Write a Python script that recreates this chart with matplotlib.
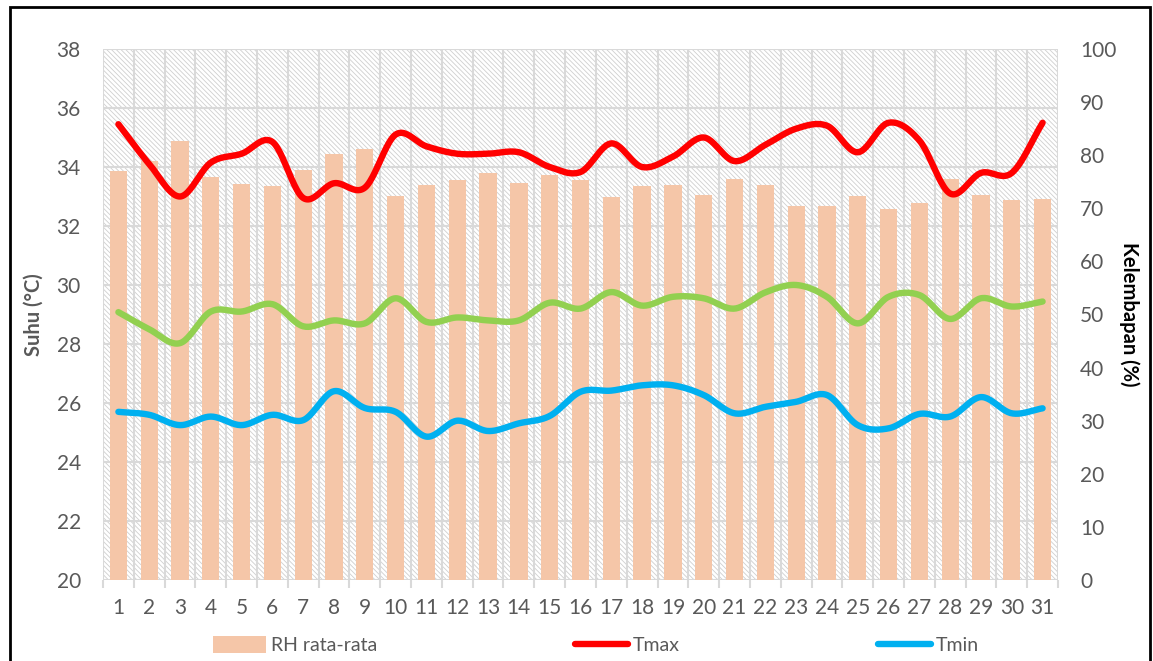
import numpy as np
import matplotlib
matplotlib.use('Agg')
import matplotlib.pyplot as plt
from matplotlib.patches import Rectangle, Patch
from matplotlib.lines import Line2D

# data
days = list(range(1, 32))
rh_mean = [77.0, 78.9, 82.7, 75.9, 74.5, 74.2, 77.2, 80.2, 81.2, 72.3,
           74.4, 75.3, 76.7, 74.7, 76.3, 75.3, 72.1, 74.2, 74.4, 72.5,
           75.5, 74.4, 70.5, 70.4, 72.3, 69.9, 71.0, 75.5, 72.5, 71.6, 71.8]
t_max = [35.45, 34.1, 33.0, 34.15, 34.45, 34.85, 32.95, 33.45, 33.3, 35.1,
         34.7, 34.45, 34.45, 34.5, 34.0, 33.83, 34.8, 34.0, 34.35, 35.0,
         34.2, 34.75, 35.3, 35.4, 34.5, 35.5, 34.9, 33.1, 33.8, 33.8, 35.5]
t_mean = [29.08, 28.5, 28.03, 29.1, 29.1, 29.35, 28.6, 28.8, 28.7, 29.55,
          28.75, 28.9, 28.8, 28.8, 29.4, 29.2, 29.76, 29.3, 29.6, 29.55,
          29.2, 29.75, 30.0, 29.6, 28.7, 29.6, 29.66, 28.85, 29.55, 29.27, 29.44]
t_min = [25.7, 25.6, 25.25, 25.54, 25.25, 25.6, 25.42, 26.4, 25.83, 25.7,
         24.86, 25.4, 25.05, 25.31, 25.56, 26.38, 26.42, 26.6, 26.6, 26.27,
         25.65, 25.87, 26.04, 26.27, 25.25, 25.14, 25.63, 25.54, 26.2, 25.65, 25.82]

GRAY = '#595959'
GRID = '#d9d9d9'


def smooth(x, y, n=24):
    # catmull-rom curve through the points, like excel's smoothed line
    x = np.asarray(x, float)
    y = np.asarray(y, float)
    px = np.concatenate(([2 * x[0] - x[1]], x, [2 * x[-1] - x[-2]]))
    py = np.concatenate(([2 * y[0] - y[1]], y, [2 * y[-1] - y[-2]]))
    t = np.linspace(0, 1, n, endpoint=False)
    xs, ys = [], []
    for i in range(1, len(px) - 2):
        for p, out in ((px, xs), (py, ys)):
            p0, p1, p2, p3 = p[i - 1], p[i], p[i + 1], p[i + 2]
            out.append(0.5 * (2 * p1 + (p2 - p0) * t + (2 * p0 - 5 * p1 + 4 * p2 - p3) * t ** 2
                              + (3 * p1 - p0 - 3 * p2 + p3) * t ** 3))
    xs.append([x[-1]])
    ys.append([y[-1]])
    return np.concatenate(xs), np.concatenate(ys)


plt.rcParams['font.family'] = ['Lato', 'DejaVu Sans']
plt.rcParams['hatch.linewidth'] = 0.6

W, H = 1153, 661
fig = plt.figure(figsize=(W / 100, H / 100), dpi=100)
ax = fig.add_axes([103 / W, (H - 580) / H, 955 / W, 531 / H])
ax2 = ax.twinx()

# hatched background
ax.add_patch(Rectangle((0, 0), 1, 1, transform=ax.transAxes, facecolor='white',
                       edgecolor='#cfcfcf', hatch='\\\\\\\\\\\\\\', linewidth=0, zorder=0))
ax.set_axisbelow(True)

ax.set_xlim(0.5, 31.5)
ax.set_ylim(20, 38)
ax.set_yticks(np.arange(20, 39, 2))
ax.set_xticks(days)
ax.set_xticks(np.arange(0.5, 32, 1), minor=True)
ax.grid(True, axis='y', color=GRID, lw=1.5)
ax.grid(True, axis='x', which='minor', color=GRID, lw=1.5)
ax.tick_params(axis='x', which='major', length=0, pad=13, labelsize=15, labelcolor=GRAY)
ax.tick_params(axis='x', which='minor', length=6, width=1.5, color=GRID)
ax.tick_params(axis='y', length=0, pad=16, labelsize=15, labelcolor=GRAY)

ax2.set_ylim(0, 100)
ax2.set_yticks(np.arange(0, 101, 10))
ax2.tick_params(axis='y', length=0, pad=16, labelsize=15, labelcolor=GRAY)

for a in (ax, ax2):
    for s in a.spines.values():
        s.set_visible(False)

ax2.bar(days, rh_mean, width=0.56, color='#F5C6A8', zorder=2)

for vals, col in ((t_max, '#FF0000'), (t_mean, '#92D050'), (t_min, '#00B0F0')):
    sx, sy = smooth(days, vals)
    ax2.plot(sx, sy, color=col, lw=4.6, solid_capstyle='round', transform=ax.transData, zorder=3)

ax.set_ylabel('Suhu (°C)', fontsize=14.5, fontweight='bold', color=GRAY)
ax.yaxis.set_label_coords(-0.062, 0.5)
ax2.set_ylabel('Kelembapan (%)', fontsize=14.5, fontweight='bold', color='black', rotation=270, va='center')
ax2.yaxis.set_label_coords(1.075, 0.5)

handles = [Patch(facecolor='#F5C6A8', edgecolor='none'),
           Line2D([], [], color='#FF0000', lw=4.6, solid_capstyle='round'),
           Line2D([], [], color='#00B0F0', lw=4.6, solid_capstyle='round')]
fig.legend(handles, ['RH rata-rata', 'Tmax', 'Tmin'], loc='center', ncol=3,
           bbox_to_anchor=(596 / W, (H - 645) / H), frameon=False, fontsize=14,
           labelcolor=GRAY, handlelength=2.7, handleheight=0.95, handletextpad=0.25,
           columnspacing=10.2)

# chart border
fig.add_artist(Rectangle((10 / W, -0.02), 1140 / W, 1.02 - 7 / H, transform=fig.transFigure,
                         fill=False, edgecolor='black', lw=2))

fig.savefig('out.png', dpi=100)
